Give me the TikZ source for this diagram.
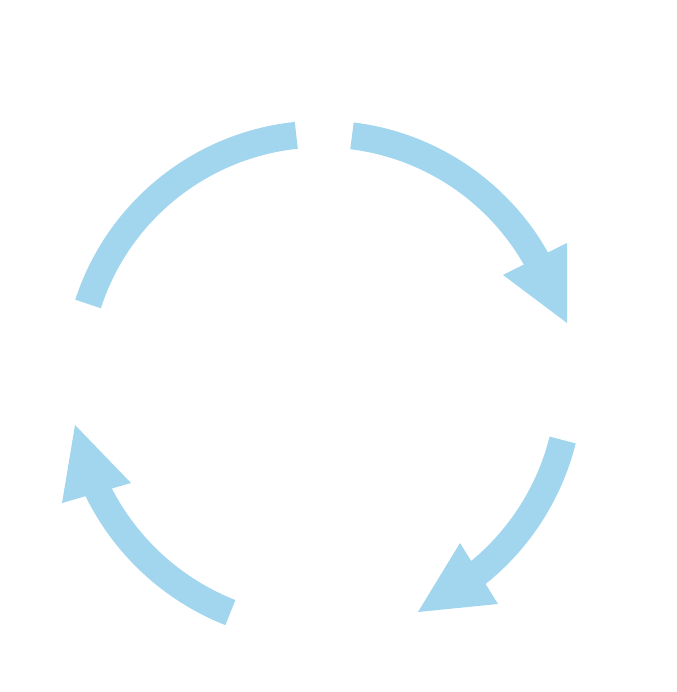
\documentclass[tikz,border=0pt]{standalone}
\begin{document}
\begin{tikzpicture}[x=1pt,y=1pt,
  arcstyle/.style={draw=arrowblue,line width=27pt,line cap=butt},
  headstyle/.style={fill=arrowblue}]
\definecolor{arrowblue}{RGB}{162,214,238}
\useasboundingbox (0,0) rectangle (676,692);
\coordinate (c) at (322,312);
\draw[arcstyle] (c) ++(162:246) arc[start angle=162,end angle=96,radius=246];
\draw[arcstyle] (c) ++(83:246) arc[start angle=83,end angle=28,radius=246];
\fill[headstyle] (503,417) -- (567,449) -- (567,369) -- cycle;
\draw[arcstyle] (c) ++(-14:248) arc[start angle=-14,end angle=-53,radius=248];
\fill[headstyle] (460,149) -- (498,88) -- (418,80) -- cycle;
\draw[arcstyle] (c) ++(-111.5:250) arc[start angle=-111.5,end angle=-155,radius=250];
\fill[headstyle] (62,189) -- (131,209) -- (75,267) -- cycle;
\end{tikzpicture}
\end{document}
